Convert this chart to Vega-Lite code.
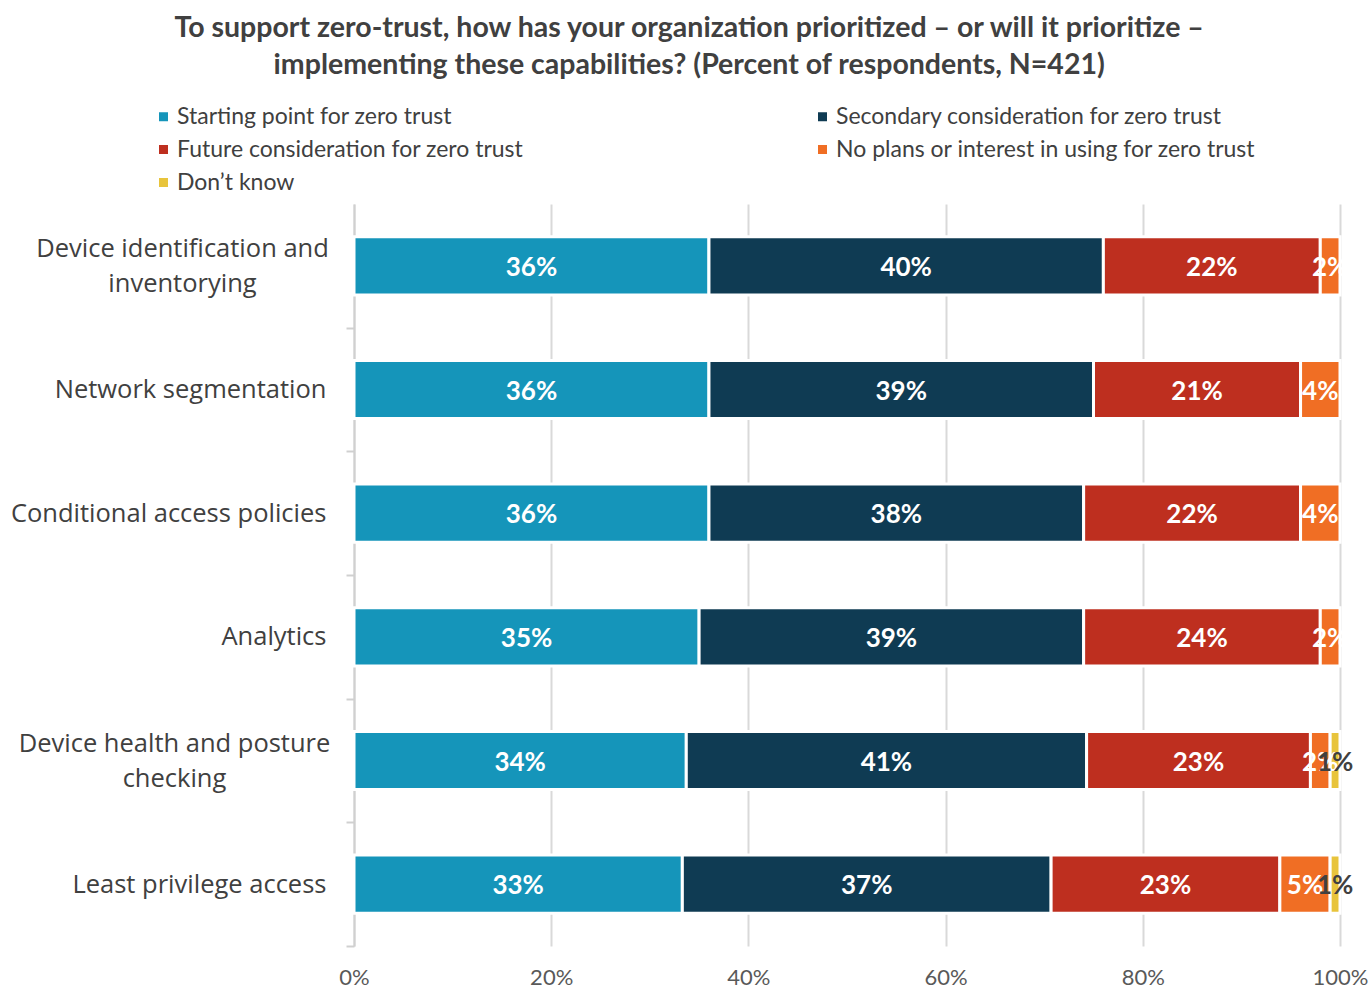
{
  "$schema": "https://vega.github.io/schema/vega-lite/v6.json",
  "width": 986,
  "height": 742,
  "autosize": {"type": "none"},
  "padding": {"left": 354, "top": 204, "right": 29, "bottom": 44},
  "background": "white",
  "title": {
    "text": ["To support zero-trust, how has your organization prioritized – or will it prioritize –", "implementing these capabilities? (Percent of respondents, N=421)"],
    "font": "Lato",
    "fontSize": 28.5,
    "fontWeight": "bold",
    "color": "#404040",
    "anchor": "middle",
    "frame": "bounds",
    "lineHeight": 37,
    "dy": -22
  },
  "data": {
    "values": [
      {"cap": "Device identification and inventorying", "s": "Starting point for zero trust", "k": 1, "v": 0.36},
      {"cap": "Device identification and inventorying", "s": "Secondary consideration for zero trust", "k": 2, "v": 0.40},
      {"cap": "Device identification and inventorying", "s": "Future consideration for zero trust", "k": 3, "v": 0.22},
      {"cap": "Device identification and inventorying", "s": "No plans or interest in using for zero trust", "k": 4, "v": 0.02},
      {"cap": "Network segmentation", "s": "Starting point for zero trust", "k": 1, "v": 0.36},
      {"cap": "Network segmentation", "s": "Secondary consideration for zero trust", "k": 2, "v": 0.39},
      {"cap": "Network segmentation", "s": "Future consideration for zero trust", "k": 3, "v": 0.21},
      {"cap": "Network segmentation", "s": "No plans or interest in using for zero trust", "k": 4, "v": 0.04},
      {"cap": "Conditional access policies", "s": "Starting point for zero trust", "k": 1, "v": 0.36},
      {"cap": "Conditional access policies", "s": "Secondary consideration for zero trust", "k": 2, "v": 0.38},
      {"cap": "Conditional access policies", "s": "Future consideration for zero trust", "k": 3, "v": 0.22},
      {"cap": "Conditional access policies", "s": "No plans or interest in using for zero trust", "k": 4, "v": 0.04},
      {"cap": "Analytics", "s": "Starting point for zero trust", "k": 1, "v": 0.35},
      {"cap": "Analytics", "s": "Secondary consideration for zero trust", "k": 2, "v": 0.39},
      {"cap": "Analytics", "s": "Future consideration for zero trust", "k": 3, "v": 0.24},
      {"cap": "Analytics", "s": "No plans or interest in using for zero trust", "k": 4, "v": 0.02},
      {"cap": "Device health and posture checking", "s": "Starting point for zero trust", "k": 1, "v": 0.337},
      {"cap": "Device health and posture checking", "s": "Secondary consideration for zero trust", "k": 2, "v": 0.406},
      {"cap": "Device health and posture checking", "s": "Future consideration for zero trust", "k": 3, "v": 0.227},
      {"cap": "Device health and posture checking", "s": "No plans or interest in using for zero trust", "k": 4, "v": 0.02},
      {"cap": "Device health and posture checking", "s": "Don’t know", "k": 5, "v": 0.01},
      {"cap": "Least privilege access", "s": "Starting point for zero trust", "k": 1, "v": 0.333},
      {"cap": "Least privilege access", "s": "Secondary consideration for zero trust", "k": 2, "v": 0.374},
      {"cap": "Least privilege access", "s": "Future consideration for zero trust", "k": 3, "v": 0.232},
      {"cap": "Least privilege access", "s": "No plans or interest in using for zero trust", "k": 4, "v": 0.051},
      {"cap": "Least privilege access", "s": "Don’t know", "k": 5, "v": 0.01}
    ]
  },
  "encoding": {
    "y": {
      "field": "cap",
      "type": "nominal",
      "sort": null,
      "scale": {"paddingInner": 0.53, "paddingOuter": 0.265},
      "axis": {
        "title": null,
        "labelFont": "Open Sans",
        "labelFontSize": 25.5,
        "labelColor": "#404040",
        "labelPadding": {"condition": [
          {"test": "datum.value == 'Device identification and inventorying'", "value": 164},
          {"test": "datum.value == 'Device health and posture checking'", "value": 172}
        ], "value": 20},
        "labelAlign": {"condition": {"test": "datum.value == 'Device identification and inventorying' || datum.value == 'Device health and posture checking'", "value": "center"}, "value": "right"},
        "labelOffset": {"condition": {"test": "datum.value == 'Device identification and inventorying' || datum.value == 'Device health and posture checking'", "value": -79.3}, "value": -61.8},
        "labelLineHeight": 35,
        "labelLimit": 400,
        "labelExpr": "datum.value == 'Device identification and inventorying' ? ['Device identification and', 'inventorying'] : datum.value == 'Device health and posture checking' ? ['Device health and posture', 'checking'] : datum.value",
        "domainColor": "#d0d0d0",
        "domainWidth": 2,
        "tickColor": "#d0d0d0",
        "tickWidth": 2,
        "tickSize": 8,
        "tickOffset": 61.8,
        "grid": false
      }
    }
  },
  "layer": [
    {
      "mark": {"type": "bar", "stroke": "white", "strokeWidth": 3},
      "encoding": {
        "x": {
          "field": "v",
          "type": "quantitative",
          "stack": "zero",
          "scale": {"domain": [0, 1], "nice": false},
          "axis": {
            "title": null,
            "format": ".0%",
            "values": [0, 0.2, 0.4, 0.6, 0.8, 1],
            "grid": true,
            "gridColor": "#d9d9d9",
            "gridWidth": 2,
            "domain": false,
            "ticks": false,
            "labelFlush": false,
            "labelFont": "Lato",
            "labelFontSize": 22,
            "labelColor": "#595959",
            "labelPadding": 21
          }
        },
        "color": {
          "field": "s",
          "type": "nominal",
          "scale": {
            "domain": ["Starting point for zero trust", "Secondary consideration for zero trust", "Future consideration for zero trust", "No plans or interest in using for zero trust", "Don’t know"],
            "range": ["#1595BA", "#0F3B53", "#BE2F1F", "#F06E24", "#E8C43C"]
          },
          "legend": {
            "title": null,
            "orient": "none",
            "legendX": -202,
            "legendY": -99,
            "direction": "horizontal",
            "columns": 2,
            "columnPadding": 287,
            "rowPadding": 9,
            "symbolType": "square",
            "symbolSize": 81,
            "symbolStrokeWidth": 0,
            "labelFont": "Lato",
            "labelFontSize": 23,
            "labelColor": "#404040",
            "labelOffset": 2,
            "labelLimit": 600
          }
        },
        "order": {"field": "k", "type": "quantitative"}
      }
    },
    {
      "mark": {"type": "text", "font": "Lato", "fontSize": 26, "fontWeight": "bold", "align": "center", "baseline": "middle", "dy": 2},
      "encoding": {
        "x": {"field": "v", "type": "quantitative", "stack": "zero", "bandPosition": 0.5},
        "detail": {"field": "s"},
        "order": {"field": "k", "type": "quantitative"},
        "text": {"field": "v", "type": "quantitative", "format": ".0%"},
        "color": {
          "condition": {"test": "datum.s === 'Don’t know'", "value": "#404040"},
          "value": "white"
        }
      }
    }
  ],
  "config": {
    "view": {"stroke": null},
    "font": "Lato"
  }
}
